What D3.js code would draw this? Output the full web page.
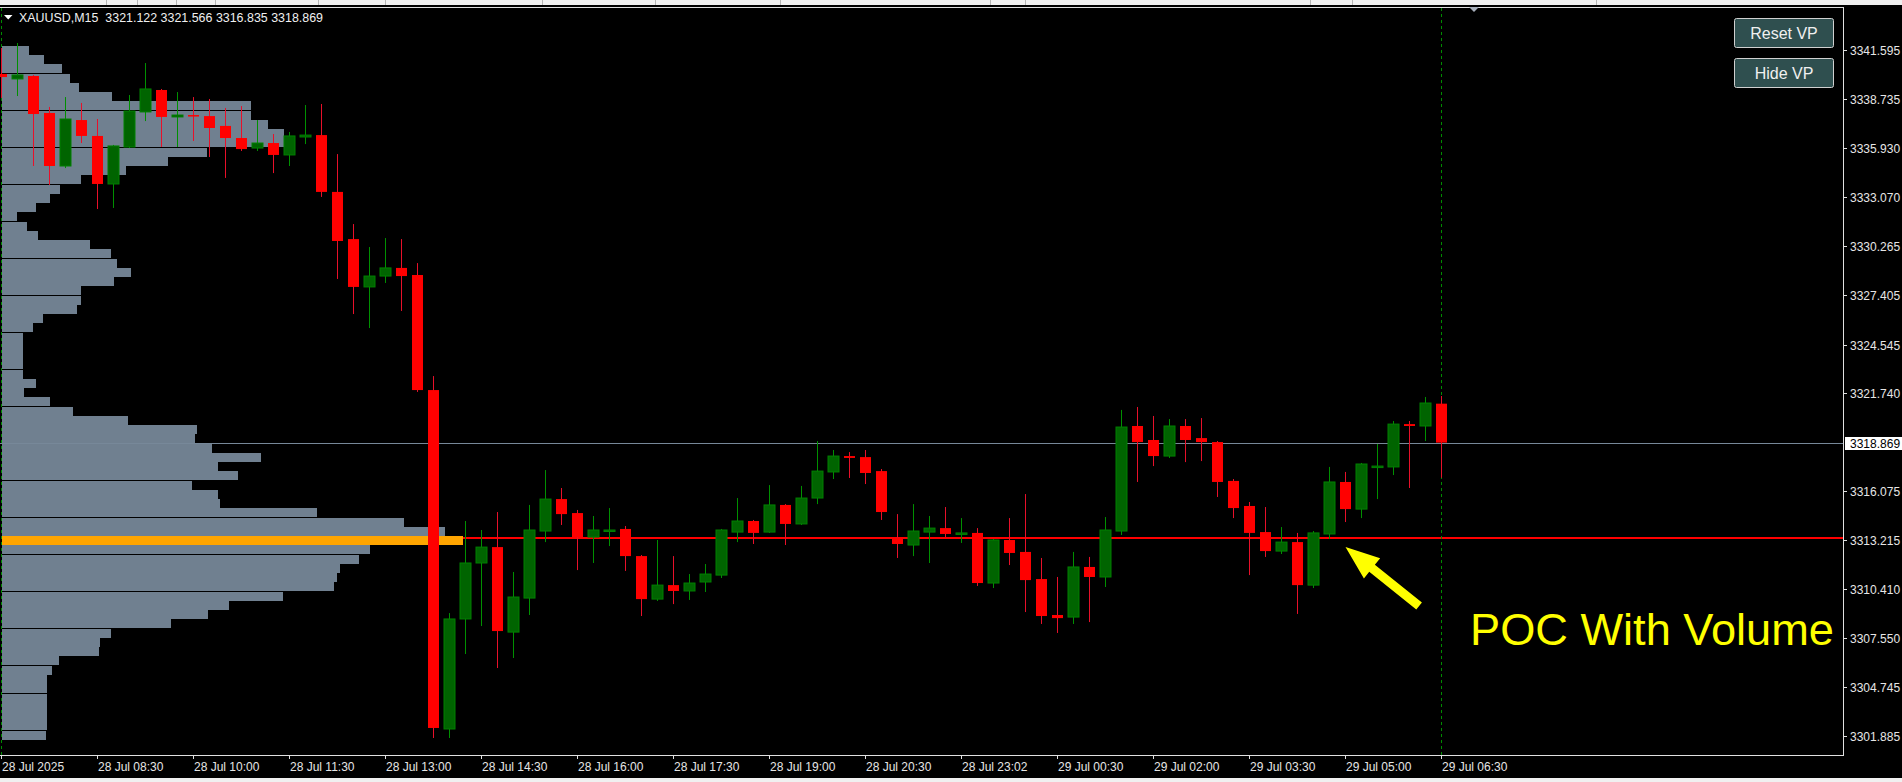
<!DOCTYPE html>
<html><head><meta charset="utf-8">
<script src="https://cdn.jsdelivr.net/npm/d3@7"></script>
<style>html,body{margin:0;padding:0;background:#000;overflow:hidden}svg{display:block}</style>
</head><body>
<svg id="c" width="1902" height="782"></svg>
<script>
// ---------- DATA ----------
const symbol = "XAUUSD,M15";
const timeLabels = ["28 Jul 2025","28 Jul 08:30","28 Jul 10:00","28 Jul 11:30","28 Jul 13:00","28 Jul 14:30","28 Jul 16:00","28 Jul 17:30","28 Jul 19:00","28 Jul 20:30","28 Jul 23:02","29 Jul 00:30","29 Jul 02:00","29 Jul 03:30","29 Jul 05:00","29 Jul 06:30"];
const timeLabelBars = [0,6,12,18,24,30,36,42,48,54,60,66,72,78,84,90];
const priceTicks = [3341.595,3338.735,3335.930,3333.070,3330.265,3327.405,3324.545,3321.740,3316.075,3313.215,3310.410,3307.550,3304.745,3301.885];
const opens = [3340.21,3339.92,3340.09,3337.95,3334.88,3337.54,3336.62,3333.84,3335.98,3338.01,3339.28,3337.72,3337.83,3337.77,3337.20,3336.50,3335.92,3336.21,3335.52,3336.56,3336.67,3333.38,3330.65,3327.88,3328.51,3328.98,3328.57,3321.91,3302.29,3308.66,3311.90,3312.82,3307.90,3309.87,3313.75,3315.60,3314.79,3313.40,3313.78,3313.87,3312.30,3309.81,3310.62,3310.28,3310.80,3311.20,3313.69,3314.33,3313.69,3315.26,3314.16,3315.66,3317.17,3318.09,3318.03,3317.22,3313.35,3312.94,3313.69,3313.92,3313.61,3313.64,3310.74,3313.23,3312.54,3310.97,3308.89,3308.77,3311.67,3311.09,3313.75,3319.83,3319.02,3318.09,3319.83,3319.13,3318.90,3316.65,3315.20,3313.69,3312.59,3313.11,3310.62,3313.58,3316.59,3315.02,3317.48,3317.46,3319.94,3319.83,3321.122];
const highs = [3341.71,3342.00,3340.15,3338.30,3338.87,3338.53,3337.60,3336.10,3338.99,3340.84,3339.34,3339.16,3338.87,3338.76,3338.24,3338.35,3337.54,3336.73,3336.85,3338.41,3338.47,3335.57,3331.52,3330.19,3330.71,3330.65,3329.26,3322.72,3309.00,3314.33,3313.81,3314.85,3311.38,3315.26,3317.28,3316.24,3314.97,3314.62,3315.08,3314.04,3312.36,3313.23,3312.30,3311.26,3311.84,3313.87,3315.66,3314.39,3316.41,3315.31,3316.36,3318.96,3318.44,3318.32,3318.44,3317.34,3314.73,3315.31,3314.62,3315.14,3314.50,3313.92,3313.29,3314.50,3315.89,3312.19,3311.09,3312.54,3312.25,3314.56,3320.76,3320.93,3320.41,3320.23,3320.23,3320.29,3318.96,3316.76,3315.43,3315.14,3313.98,3313.64,3313.75,3317.46,3317.17,3317.69,3318.79,3320.12,3320.12,3321.51,3321.566];
const lows = [3338.82,3338.93,3334.88,3333.78,3334.76,3336.21,3332.39,3332.45,3335.92,3337.48,3335.98,3335.98,3336.33,3335.40,3334.19,3335.75,3335.75,3334.47,3334.88,3336.15,3333.09,3328.34,3326.31,3325.50,3328.11,3326.49,3321.80,3301.77,3301.77,3306.63,3308.25,3305.82,3306.40,3308.89,3313.11,3314.10,3311.49,3311.90,3312.88,3311.44,3308.83,3309.70,3309.52,3309.76,3310.22,3311.03,3313.11,3313.00,3313.64,3312.94,3314.10,3315.31,3316.76,3316.82,3316.47,3314.39,3312.19,3312.30,3311.90,3313.40,3313.06,3310.57,3310.45,3311.78,3309.06,3308.37,3307.85,3308.37,3308.48,3310.51,3313.52,3316.59,3317.51,3317.98,3317.74,3317.80,3315.72,3314.50,3311.20,3312.25,3312.42,3308.95,3310.45,3313.29,3314.27,3314.50,3315.60,3316.99,3316.24,3318.96,3316.835];
const closes = [3340.03,3340.15,3337.89,3334.88,3337.60,3336.62,3333.84,3336.04,3338.06,3339.34,3337.72,3337.83,3337.77,3337.08,3336.50,3335.86,3336.21,3335.52,3336.62,3336.67,3333.38,3330.54,3327.88,3328.51,3328.98,3328.51,3321.91,3302.35,3308.66,3311.90,3312.82,3307.96,3309.93,3313.81,3315.60,3314.73,3313.40,3313.81,3313.81,3312.30,3309.81,3310.62,3310.28,3310.74,3311.26,3313.81,3314.33,3313.64,3315.26,3314.16,3315.66,3317.22,3318.09,3317.98,3317.11,3314.85,3313.00,3313.75,3313.92,3313.58,3313.64,3310.74,3313.23,3312.48,3310.91,3308.83,3308.71,3311.67,3311.09,3313.81,3319.77,3318.90,3318.09,3319.83,3319.02,3318.90,3316.59,3315.08,3313.64,3312.59,3313.11,3310.62,3313.64,3316.59,3315.02,3317.63,3317.51,3319.94,3319.83,3321.16,3318.869];
// volume profile (top row first), bins of equal price height
const profileTop = 3341.83;
const profileBin = 0.5355;
const profileVolumes = [27,42,60,68,77,110,249,249,266,282,282,205,166,124,79,58,48,34,15,25,36,88,109,115,129,112,79,79,75,41,31,21,21,21,21,21,34,22,48,71,126,195,193,210,259,216,236,190,216,218,315,402,443,461,368,357,338,335,332,281,227,206,169,109,98,97,57,50,45,45,45,45,45,45,44];
const pocLinePrice = 3313.33;
const currentPrice = 3318.869;
const annotationText = "POC With Volume";
const arrowTip = {bar: 84, price: 3312.82};
const arrowTail = {bar: 88.6, price: 3309.41};
const buttons = ["Reset VP","Hide VP"];

// ---------- LAYOUT ----------
const W = 1902, H = 782;
const plotRight = 1843, plotTop = 7, plotBottom = 755;
const svg = d3.select("#c");
const x = d3.scaleLinear().domain([0, 90]).range([1.5, 1441.5]);
const y = d3.scaleLinear().domain([3301.885, 3341.595]).range([736, 50]);
const bodyW = 11;

svg.append("rect").attr("width", W).attr("height", H).attr("fill", "#000");
// top toolbar strip & bottom strip
svg.append("rect").attr("x",0).attr("y",0).attr("width",W).attr("height",5).attr("fill","#f0f0f0");
[106,137,176,215,318,385,542,655,780,990,1025,1310,1352,1596].forEach(v=>{
  svg.append("line").attr("x1",v+0.5).attr("x2",v+0.5).attr("y1",0).attr("y2",5).attr("stroke","#b4b4b4");
});
svg.append("rect").attr("x",0).attr("y",778).attr("width",W).attr("height",4).attr("fill","#f0f0f0");

const plot = svg.append("g");
// volume profile
const maxVol = d3.max(profileVolumes);
const vx = d3.scaleLinear().domain([0, maxVol]).range([0, 461]);
const pocIdx = profileVolumes.indexOf(maxVol);
plot.selectAll("rect.vp").data(profileVolumes).join("rect")
  .attr("class","vp")
  .attr("x", 2)
  .attr("y", (d,i) => Math.round(y(profileTop - i*profileBin)))
  .attr("width", d => vx(d))
  .attr("height", 9)
  .attr("fill", (d,i) => i === pocIdx ? "#ffa500" : "#708090");

// current price line
plot.append("line").attr("x1",0).attr("x2",plotRight)
  .attr("y1", Math.round(y(currentPrice))+0.5).attr("y2", Math.round(y(currentPrice))+0.5)
  .attr("stroke","#778899").attr("stroke-width",1);
// POC line
plot.append("line").attr("x1", 2 + vx(maxVol)).attr("x2", plotRight)
  .attr("y1", Math.round(y(pocLinePrice))).attr("y2", Math.round(y(pocLinePrice)))
  .attr("stroke","#ff0000").attr("stroke-width",2);
// vertical dashed lines
[0, 90].forEach(b => {
  plot.append("line").attr("x1", Math.floor(x(b))+0.5).attr("x2", Math.floor(x(b))+0.5)
    .attr("y1", plotTop+1).attr("y2", plotBottom)
    .attr("stroke","#008c00").attr("stroke-dasharray","3,3");
});

// candles
const bars = d3.range(opens.length).map(i => ({i, o:opens[i], h:highs[i], l:lows[i], c:closes[i]}));
const cg = plot.append("g");
cg.selectAll("line.wick").data(bars).join("line")
  .attr("x1", d => x(d.i)).attr("x2", d => x(d.i))
  .attr("y1", d => y(d.h)).attr("y2", d => y(d.l))
  .attr("stroke", d => d.c >= d.o ? "#009000" : "#e8102a").attr("stroke-width",1);
cg.selectAll("rect.body").data(bars).join("rect")
  .attr("x", d => x(d.i) - bodyW/2)
  .attr("y", d => y(Math.max(d.o, d.c)))
  .attr("width", bodyW)
  .attr("height", d => Math.max(1.5, Math.abs(y(d.o) - y(d.c))))
  .attr("fill", d => d.c >= d.o ? "#006400" : "#ff0000")
  .attr("stroke", d => d.c >= d.o ? "#008000" : "none")
  .attr("stroke-width", 1);

// frame
svg.append("line").attr("x1",0).attr("x2",plotRight+0.5).attr("y1",plotTop+0.5).attr("y2",plotTop+0.5).attr("stroke","#e0e0e0");
svg.append("line").attr("x1",plotRight+0.5).attr("x2",plotRight+0.5).attr("y1",plotTop).attr("y2",plotBottom+1).attr("stroke","#e0e0e0");
svg.append("line").attr("x1",0).attr("x2",plotRight+0.5).attr("y1",plotBottom+0.5).attr("y2",plotBottom+0.5).attr("stroke","#e0e0e0");

// price axis
const font = "'Liberation Sans', Arial, sans-serif";
const pa = svg.append("g");
priceTicks.forEach(v => {
  const yy = Math.round(y(v)) + 0.5;
  pa.append("line").attr("x1",plotRight).attr("x2",plotRight+4).attr("y1",yy).attr("y2",yy).attr("stroke","#e0e0e0");
  pa.append("text").attr("x",plotRight+7).attr("y",yy+4.5).attr("fill","#e6e6e6")
    .attr("font-family",font).attr("font-size","12px").text(v.toFixed(3));
});
// current price label
const cy = Math.round(y(currentPrice)) + 0.5;
pa.append("rect").attr("x",plotRight+2).attr("y",cy-6.5).attr("width",W-plotRight-2).attr("height",13).attr("fill","#ffffff");
pa.append("text").attr("x",plotRight+7).attr("y",cy+4.5).attr("fill","#000")
  .attr("font-family",font).attr("font-size","12px").text(currentPrice.toFixed(3));

// time axis
const ta = svg.append("g");
timeLabelBars.forEach((b, k) => {
  const xx = Math.floor(x(b)) + 0.5;
  ta.append("line").attr("x1",xx).attr("x2",xx).attr("y1",plotBottom).attr("y2",plotBottom+4).attr("stroke","#e0e0e0");
  ta.append("text").attr("x", xx + 0.5).attr("y", 771).attr("fill","#e6e6e6")
    .attr("font-family",font).attr("font-size","12px").text(timeLabels[k]);
});

// header
const last = opens.length - 1;
svg.append("path").attr("d","M4,15 L12.5,15 L8.25,19.5 Z").attr("fill","#ffffff");
svg.append("text").attr("x",19).attr("y",21.5).attr("fill","#f0f0f0")
  .attr("font-family",font).attr("font-size","12.5px")
  .attr("xml:space","preserve")
  .attr("textLength", 304).attr("lengthAdjust","spacingAndGlyphs")
  .text(symbol + "  " + [opens[last],highs[last],lows[last],closes[last]].map(v=>v.toFixed(3)).join(" "));

// shift marker
svg.append("path").attr("d","M1469,7 L1479,7 L1474,12 Z").attr("fill","#a8b0bc");

// buttons
buttons.forEach((t, k) => {
  const by = 18 + k*40;
  svg.append("rect").attr("x",1734.5).attr("y",by+0.5).attr("width",99).attr("height",29).attr("rx",2)
    .attr("fill","#2f4f4f").attr("stroke","#d0d0d0");
  svg.append("text").attr("x",1784).attr("y",by+20.5).attr("text-anchor","middle")
    .attr("fill","#f0f0f0").attr("font-family",font).attr("font-size","16px").text(t);
});

// annotation text
svg.append("text").attr("x",1470).attr("y",645)
  .attr("fill","#ffff00").attr("font-family",font).attr("font-size","45px")
  .attr("textLength", 364).attr("lengthAdjust","spacingAndGlyphs").text(annotationText);

// arrow
(function(){
  const tx = x(arrowTip.bar), ty = y(arrowTip.price);
  const sx = x(arrowTail.bar), sy = y(arrowTail.price);
  const dx = tx - sx, dy = ty - sy, len = Math.hypot(dx, dy);
  const ux = dx/len, uy = dy/len, nx = -uy, ny = ux;
  const headLen = 34, headHalf = 13, shaftHalf = 4.5;
  const bx = tx - ux*headLen, by = ty - uy*headLen;
  const pts = [
    [sx + nx*shaftHalf, sy + ny*shaftHalf],
    [bx + nx*shaftHalf, by + ny*shaftHalf],
    [bx + nx*headHalf, by + ny*headHalf],
    [tx, ty],
    [bx - nx*headHalf, by - ny*headHalf],
    [bx - nx*shaftHalf, by - ny*shaftHalf],
    [sx - nx*shaftHalf, sy - ny*shaftHalf]
  ];
  svg.append("path").attr("d", d3.line()(pts) + "Z").attr("fill","#ffff00");
})();
</script>
</body></html>
